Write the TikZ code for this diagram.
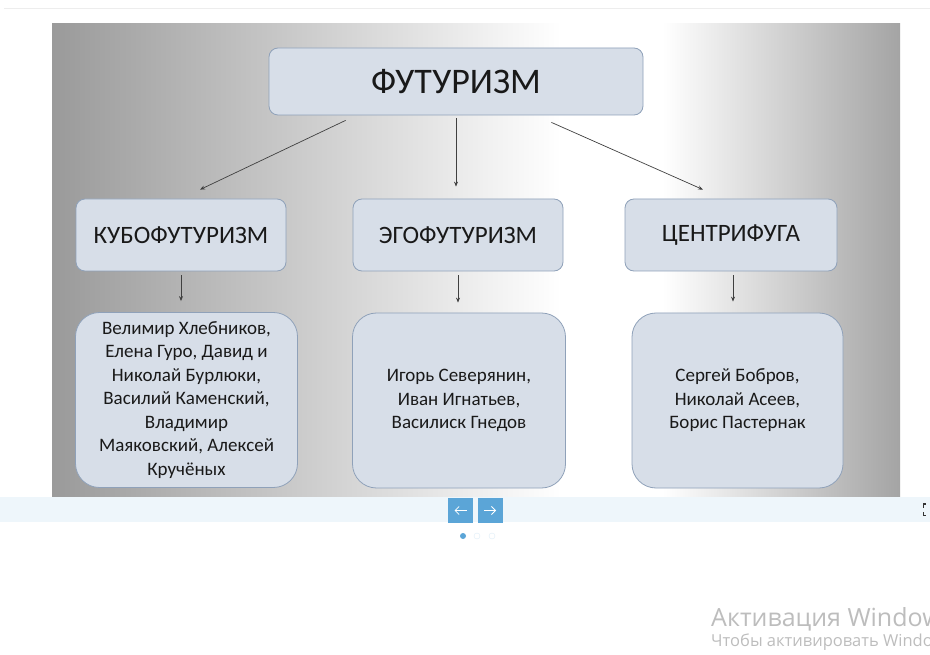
\documentclass[tikz,border=0pt]{standalone}
\usepackage{fontspec}
\setmainfont{Carlito}
\newfontfamily\winfont{Open Sans}
\usetikzlibrary{arrows.meta}
\definecolor{boxfill}{HTML}{D7DEE8}
\definecolor{boxline}{HTML}{8FA1B9}
\definecolor{barblue}{HTML}{EEF6FB}
\definecolor{btnblue}{HTML}{5BA5D7}
\definecolor{wingray}{HTML}{BDBDBD}
\definecolor{bgleft}{HTML}{9A9A9A}
\definecolor{bgright}{HTML}{A4A4A4}
\pgfdeclarehorizontalshading{slideshade}{100bp}{color(0bp)=(bgleft); color(25bp)=(bgleft); color(55bp)=(white); color(61bp)=(white); color(75bp)=(bgright); color(100bp)=(bgright)}

\begin{document}
\begin{tikzpicture}[
    x=1pt, y=-1pt,
    box/.style={draw=boxline, line width=0.8pt, fill=boxfill, rounded corners=9pt,
      align=center, text=black!90, inner sep=0pt},
    head box/.style={box, minimum width=374pt, minimum height=67pt,
      font=\fontsize{36}{40}\selectfont},
    school box/.style={box, minimum width=210pt, minimum height=72pt,
      font=\fontsize{25}{29}\selectfont},
    names box/.style={box, rounded corners=24pt, minimum width=213pt, minimum height=175pt,
      font=\fontsize{19}{23.5}\selectfont},
    link/.style={-{Stealth[length=5pt,width=4pt]}, draw=black!75, line width=0.7pt},
    btn/.style={fill=btnblue, minimum size=25pt, inner sep=0pt},
    btn arrow/.style={white, line width=0.8pt, -{Straight Barb[length=4pt,width=8pt]}},
    dot/.style={circle, minimum size=6pt, inner sep=0pt}
    ]

    \useasboundingbox (0,0) rectangle (930,655);
    \fill[white] (0,0) rectangle (930,655);
    % page frame
    \draw[black!7, line width=1pt] (4,9) -- (930,9);
    \shade[shading=slideshade] (52,24) rectangle (900,497);
    \fill[barblue] (0,497) rectangle (930,522);

    % boxes
    \node[head box] (futur) at (456,81.5) {ФУТУРИЗМ};
    \node[school box] (kubo) at (181,235) {КУБОФУТУРИЗМ};
    \node[school box] (ego) at (458,235) {ЭГОФУТУРИЗМ};
    \node[school box, minimum width=212pt] (centr) at (731,235) {ЦЕНТРИФУГА};
    \node[names box, minimum width=222pt] (kuboNames) at (186.5,400)
      {Велимир Хлебников,\\Елена Гуро, Давид и\\Николай Бурлюки,\\Василий Каменский,\\Владимир\\Маяковский, Алексей\\Кручёных};
    \node[names box] (egoNames) at (459,400.5)
      {Игорь Северянин,\\Иван Игнатьев,\\Василиск Гнедов};
    \node[names box, minimum width=211pt] (centrNames) at (737.5,400.5)
      {Сергей Бобров,\\Николай Асеев,\\Борис Пастернак};

    % arrows
    \draw[link] ([xshift=77pt,yshift=-5pt]futur.south west) -- ([xshift=19pt,yshift=9pt]kubo.north);
    \draw[link, shorten <=3pt, shorten >=12pt] (futur.south) -- (futur.south |- ego.north);
    \draw[link] ([xshift=-92pt,yshift=-7pt]futur.south east) -- ([xshift=-28pt,yshift=9pt]centr.north);
    \draw[link, shorten <=4pt, shorten >=11pt] (kubo.south) -- (kubo.south |- kuboNames.north);
    \draw[link, shorten <=4pt, shorten >=10pt] (ego.south) -- (ego.south |- egoNames.north);
    \draw[link, shorten <=4pt, shorten >=11pt] ([xshift=2pt]centr.south) -- ([xshift=2pt]centr.south |- centrNames.north);

    % slider controls
    \node[btn] (prev) at (460.5,510.5) {};
    \node[btn] (next) at (490,510.5) {};
    \draw[btn arrow] ([xshift=6pt]prev.center) -- ([xshift=-6pt]prev.center);
    \draw[btn arrow] ([xshift=-6pt]next.center) -- ([xshift=6pt]next.center);
    \node[dot, fill=btnblue] (dotA) at (463,536) {};
    \node[dot, draw=btnblue!20, fill=white] (dotB) at (477,536) {};
    \node[dot, draw=btnblue!20, fill=white] (dotC) at (492,536) {};
    \draw[black!80, line width=1.4pt] (926,504) -- (923.5,504) -- (923.5,507.5)
      (923.5,512) -- (923.5,515.5) -- (926,515.5);

    % watermark (cut at the right edge, as in the screenshot)
    \begin{scope}
      \clip (0,0) rectangle (930,655);
      \node[anchor=base west, inner sep=0pt, text=wingray, font=\winfont\fontsize{25}{29}\selectfont]
        (winA) at (711,626) {Активация Windows};
      \node[anchor=base west, inner sep=0pt, text=wingray, font=\winfont\fontsize{16.5}{19}\selectfont]
        (winB) at (711,646) {Чтобы активировать Windows};
    \end{scope}
\end{tikzpicture}
\end{document}
